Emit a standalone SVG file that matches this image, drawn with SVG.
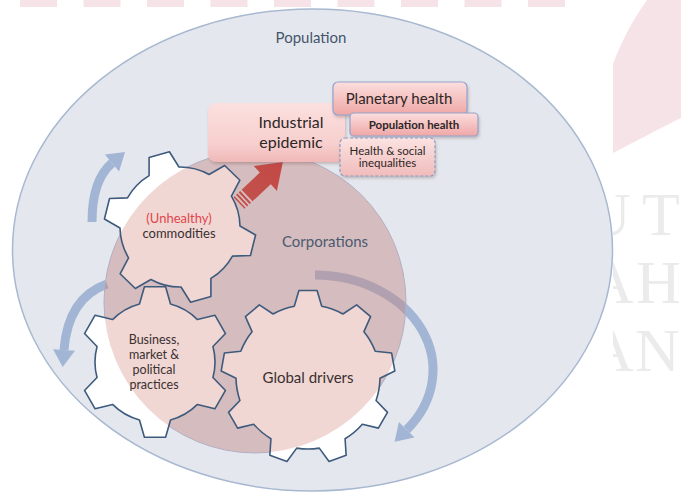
<svg xmlns="http://www.w3.org/2000/svg" width="681" height="493" viewBox="0 0 681 493">
<style>
.t{font-family:Lato,"Open Sans","Liberation Sans",sans-serif;text-anchor:middle}
.gear-fill{fill:#ffffff}
.gear-tint{fill:#f0d7d4}
.gear-line{fill:none;stroke:#3e5a7c;stroke-width:1.6;stroke-linejoin:round}
.gtext{font-size:13px;fill:#3b3030}
.blue{fill:none;stroke:#a3b5d5;stroke-width:9}
.bluehead{fill:#a3b5d5}
.wm{font-family:"Liberation Serif",serif;font-size:62px;fill:#ebebeb}
.bar{fill:#f5e3e8}
.boxtext{fill:#2e2626}
</style>
<defs>
<path id="gear6" d="M -15.53,-57.96 L -10.58,-75.26 L 10.58,-75.26 L 15.53,-57.96 A 60 60 0 0 1 42.43,-42.43 L 59.89,-46.79 L 70.47,-28.47 L 57.96,-15.53 A 60 60 0 0 1 57.96,15.53 L 70.47,28.47 L 59.89,46.79 L 42.43,42.43 A 60 60 0 0 1 15.53,57.96 L 10.58,75.26 L -10.58,75.26 L -15.53,57.96 A 60 60 0 0 1 -42.43,42.43 L -59.89,46.79 L -70.47,28.47 L -57.96,15.53 A 60 60 0 0 1 -57.96,-15.53 L -70.47,-28.47 L -59.89,-46.79 L -42.43,-42.43 A 60 60 0 0 1 -15.53,-57.96 Z"/>
<path id="gear9" d="M -13.74,-70.68 L -9.09,-86.52 L 9.09,-86.52 L 13.74,-70.68 A 72 72 0 0 1 34.91,-62.97 L 48.65,-72.12 L 62.58,-60.44 L 55.95,-45.31 A 72 72 0 0 1 67.22,-25.80 L 83.63,-23.98 L 86.79,-6.07 L 71.99,1.26 A 72 72 0 0 1 68.08,23.44 L 79.47,35.38 L 70.38,51.14 L 54.34,47.24 A 72 72 0 0 1 37.08,61.72 L 38.14,78.20 L 21.05,84.42 L 11.26,71.11 A 72 72 0 0 1 -11.26,71.11 L -21.05,84.42 L -38.14,78.20 L -37.08,61.72 A 72 72 0 0 1 -54.34,47.24 L -70.38,51.14 L -79.47,35.38 L -68.08,23.44 A 72 72 0 0 1 -71.99,1.26 L -86.79,-6.07 L -83.63,-23.98 L -67.22,-25.80 A 72 72 0 0 1 -55.95,-45.31 L -62.58,-60.44 L -48.65,-72.12 L -34.91,-62.97 A 72 72 0 0 1 -13.74,-70.68 Z"/>
<clipPath id="corpClip"><circle cx="255" cy="302" r="151"/></clipPath>
<clipPath id="wmClip"><rect x="613" y="0" width="68" height="493"/></clipPath>
<linearGradient id="boxGrad" x1="0" y1="0" x2="0" y2="1"><stop offset="0" stop-color="#fcdede"/><stop offset="1" stop-color="#eea7a6"/></linearGradient>
<linearGradient id="epiGrad" x1="0" y1="0" x2="0" y2="1"><stop offset="0" stop-color="#fbe0df"/><stop offset="0.7" stop-color="#f7cfce"/><stop offset="1" stop-color="#efb8b7"/></linearGradient>
<linearGradient id="ineqGrad" x1="0" y1="0" x2="0" y2="1"><stop offset="0" stop-color="#fbe3e2"/><stop offset="1" stop-color="#f0bcbb"/></linearGradient>
<linearGradient id="redGrad" x1="0" y1="0" x2="1" y2="0"><stop offset="0" stop-color="#c2241f"/><stop offset="1" stop-color="#c41612"/></linearGradient>
<filter id="shadow" x="-10%" y="-15%" width="125%" height="145%"><feDropShadow dx="1" dy="2" stdDeviation="1.5" flood-color="#7a5a5a" flood-opacity="0.35"/></filter>
</defs>

<g id="watermark">
<rect class="bar" x="20" y="0" width="37" height="7"/>
<rect class="bar" x="83.5" y="0" width="37" height="7"/>
<rect class="bar" x="147" y="0" width="37" height="7"/>
<rect class="bar" x="210.5" y="0" width="37" height="7"/>
<rect class="bar" x="274" y="0" width="37" height="7"/>
<rect class="bar" x="337.5" y="0" width="37" height="7"/>
<rect class="bar" x="401" y="0" width="37" height="7"/>
<rect class="bar" x="464.5" y="0" width="37" height="7"/>
<rect class="bar" x="528" y="0" width="37" height="7"/>
<path class="bar" d="M 647,0 L 681,0 L 681,118 C 660,128 635,142 613,153 L 613,64 C 622,40 634,18 647,0 Z"/>
<g clip-path="url(#wmClip)">
<text class="wm" x="586" y="235">U</text>
<text class="wm" x="642" y="235">T</text>
<text class="wm" x="589" y="303">A</text>
<text class="wm" x="636" y="303">H</text>
<text class="wm" x="589" y="371">A</text>
<text class="wm" x="635" y="371">N</text>
</g>
</g>

<g id="population">
<ellipse cx="312.5" cy="250" rx="300" ry="241" fill="#e4e8ee" stroke="#a8b8d0" stroke-width="1.5"/>
<text class="t" x="311" y="43" font-size="15" fill="#44546a">Population</text>
</g>

<g id="connectors">
<path class="blue" d="M 92,222 Q 92,180 112,163"/>
<polygon class="bluehead" points="125,152 119.1,171.4 104.9,154.6"/>
<path class="blue" d="M 107,284 Q 68,298 64,350"/>
<polygon class="bluehead" points="62.7,367 75,350.8 53,349.2"/>
<path class="blue" d="M 315,275 A 118 95 0 0 1 406.7,429.8"/>
<polygon class="bluehead" points="394.6,441.8 414.5,437.6 398.9,422"/>
<g id="red-arrow" transform="translate(239,203) rotate(-43)" fill="url(#redGrad)">
<rect x="0" y="-8" width="1.5" height="16"/>
<rect x="3.5" y="-8" width="1.8" height="16"/>
<rect x="7" y="-8" width="2" height="16"/>
<path d="M 11,-8 L 36,-8 L 36,-17 L 60,0 L 36,17 L 36,8 L 11,8 Z"/>
</g>
</g>

<g id="corporations">
<circle cx="255" cy="302" r="151" fill="rgb(195,135,130)" fill-opacity="0.45" stroke="#b3afc4" stroke-width="1"/>
<text class="t" x="325" y="247" font-size="15" fill="#4b5b70">Corporations</text>
</g>

<g id="gear-commodities">
<use href="#gear6" class="gear-fill" transform="translate(180,227) rotate(-16)"/>
<g clip-path="url(#corpClip)"><use href="#gear6" class="gear-tint" transform="translate(180,227) rotate(-16)"/></g>
<use href="#gear6" class="gear-line" transform="translate(180,227) rotate(-16)"/>
<text class="t gtext" x="179" y="223" style="fill:#e0464b">(Unhealthy)</text>
<text class="t gtext" x="179" y="238">commodities</text>
</g>

<g id="gear-business">
<use href="#gear6" class="gear-fill" transform="translate(155,362)"/>
<g clip-path="url(#corpClip)"><use href="#gear6" class="gear-tint" transform="translate(155,362)"/></g>
<use href="#gear6" class="gear-line" transform="translate(155,362)"/>
<text class="t" x="154" y="344" font-size="12.5" fill="#3b3030">Business,</text>
<text class="t" x="154" y="359" font-size="12.5" fill="#3b3030">market &amp;</text>
<text class="t" x="154" y="374" font-size="12.5" fill="#3b3030">political</text>
<text class="t" x="154" y="389" font-size="12.5" fill="#3b3030">practices</text>
</g>

<g id="gear-global">
<use href="#gear9" class="gear-fill" transform="translate(308,377)"/>
<g clip-path="url(#corpClip)"><use href="#gear9" class="gear-tint" transform="translate(308,377)"/></g>
<use href="#gear9" class="gear-line" transform="translate(308,377)"/>
<text class="t" x="308" y="383" font-size="15" fill="#3b3030">Global drivers</text>
</g>

<g id="industrial-epidemic">
<rect x="208" y="103" width="137" height="59" rx="8" fill="url(#epiGrad)" filter="url(#shadow)"/>
<text class="t boxtext" x="291" y="128" font-size="16">Industrial</text>
<text class="t boxtext" x="291" y="147.5" font-size="16">epidemic</text>
</g>

<g id="planetary-health">
<rect x="333" y="82" width="134" height="33" rx="5" fill="url(#boxGrad)" stroke="#93a3cc" stroke-width="1.2" filter="url(#shadow)"/>
<text class="t boxtext" x="399" y="104" font-size="15">Planetary health</text>
</g>

<g id="population-health">
<rect x="350" y="113" width="128" height="23" rx="4" fill="url(#boxGrad)" stroke="#93a3cc" stroke-width="1.2" filter="url(#shadow)"/>
<text class="t boxtext" x="414" y="128.5" font-size="11.5" font-weight="bold">Population health</text>
</g>

<g id="health-inequalities">
<rect x="340" y="138" width="95" height="38" rx="5" fill="url(#ineqGrad)" stroke="#8e9bbf" stroke-width="1.2" stroke-dasharray="3,2" filter="url(#shadow)"/>
<text class="t boxtext" x="387.5" y="154.5" font-size="11.5">Health &amp; social</text>
<text class="t boxtext" x="387.5" y="167" font-size="11.5">inequalities</text>
</g>
</svg>
